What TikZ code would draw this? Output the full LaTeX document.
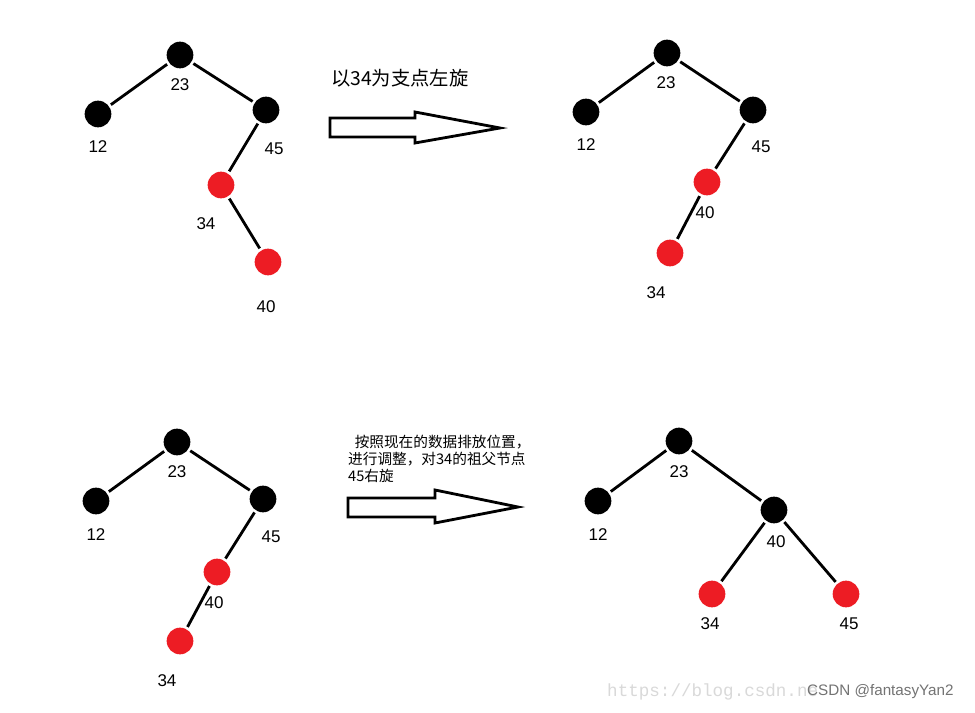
\documentclass[tikz,border=0pt]{standalone}
\usepackage{fontspec}
\setmainfont{Liberation Sans}
\newfontfamily\cjk{Noto Sans CJK SC}
\newfontfamily\wmmono{Liberation Mono}
\usetikzlibrary{positioning}
\definecolor{nodered}{RGB}{237,28,36}
\tikzset{
  blk/.style={circle, fill=black, minimum size=0.8cm, inner sep=0pt},
  rdn/.style={circle, fill=nodered, minimum size=0.8cm, inner sep=0pt},
  lbl/.style={inner sep=0pt, text=black},
  edge/.style={line width=2.4pt, shorten <=2pt, shorten >=2pt},
  hollow/.style={draw=black, line width=2.4pt, fill=white, line join=miter}
}
\begin{document}
\begin{tikzpicture}[x=0.03cm, y=-0.03cm, font=\fontsize{14.5}{16}\selectfont]
\useasboundingbox[fill=white] (0,0) rectangle (975,713);

% tree 1: before left rotation
\node[blk] (a23) at (180,55) {};
\node[blk] (a12) at (98,114) {};
\node[blk] (a45) at (266,110) {};
\node[rdn] (a34) at (221,185) {};
\node[rdn] (a40) at (268,262) {};
\foreach \n/\x/\y in {23/180/85, 12/98/147, 45/274/149, 34/206/224, 40/266/307} {
  \node[lbl] (a\n t) at (\x,\y) {\n};
}
\draw[edge] (a12) -- (a23);
\draw[edge] (a23) -- (a45);
\draw[edge] (a45) -- (a34);
\draw[edge] (a34) -- (a40);

% arrow 1
\draw[hollow] (330,118) -- (415,118) -- (415,112) -- (500,128) -- (415,143) -- (415,137) -- (330,137) -- cycle;
\node[font=\cjk\fontsize{16.5}{18}\selectfont, anchor=west] (step1) at (327,78) {以34为支点左旋};

% tree 2: after left rotation
\node[blk] (b23) at (667,53) {};
\node[blk] (b12) at (586,112) {};
\node[blk] (b45) at (753,110) {};
\node[rdn] (b40) at (707,182) {};
\node[rdn] (b34) at (670,253) {};
\foreach \n/\x/\y in {23/666/83, 12/586/145, 45/761/147, 40/705/213, 34/656/293} {
  \node[lbl] (b\n t) at (\x,\y) {\n};
}
\draw[edge] (b12) -- (b23);
\draw[edge] (b23) -- (b45);
\draw[edge] (b45) -- (b40);
\draw[edge] (b40) -- (b34);

% tree 3: same as tree 2
\node[blk] (c23) at (177,442) {};
\node[blk] (c12) at (96,501) {};
\node[blk] (c45) at (263,499) {};
\node[rdn] (c40) at (217,572) {};
\node[rdn] (c34) at (180,641) {};
\foreach \n/\x/\y in {23/177/472, 12/96/535, 45/271/537, 40/214/603, 34/167/681} {
  \node[lbl] (c\n t) at (\x,\y) {\n};
}
\draw[edge] (c12) -- (c23);
\draw[edge] (c23) -- (c45);
\draw[edge] (c45) -- (c40);
\draw[edge] (c40) -- (c34);

% arrow 2
\draw[hollow] (348,498) -- (435,498) -- (435,490) -- (518,507) -- (435,523) -- (435,517) -- (348,517) -- cycle;
\node[font=\cjk\fontsize{12.5}{14.5}\selectfont, anchor=north west, align=left, inner sep=0pt] (step2) at (348,435)
  {\ \ 按照现在的数据排放位置，\\进行调整，对34的祖父节点\\45右旋};

% tree 4: after right rotation
\node[blk] (d23) at (679,441) {};
\node[blk] (d12) at (598,501) {};
\node[blk] (d40) at (774,510) {};
\node[rdn] (d34) at (712,594) {};
\node[rdn] (d45) at (846,594) {};
\foreach \n/\x/\y in {23/679/472, 12/598/535, 40/776/542, 34/710/624, 45/849/624} {
  \node[lbl] (d\n t) at (\x,\y) {\n};
}
\draw[edge] (d12) -- (d23);
\draw[edge] (d23) -- (d40);
\draw[edge] (d40) -- (d34);
\draw[edge] (d40) -- (d45);

% watermark
\node[font=\wmmono\fontsize{15}{16}\selectfont, text=black!15, anchor=west, inner sep=0pt] (url) at (607,692) {https://blog.csdn.ne};
\node[font=\fontsize{13}{15}\selectfont, text=black!55, anchor=west, inner sep=0pt] (mark) at (807,692) {CSDN @fantasyYan2};
\end{tikzpicture}
\end{document}
